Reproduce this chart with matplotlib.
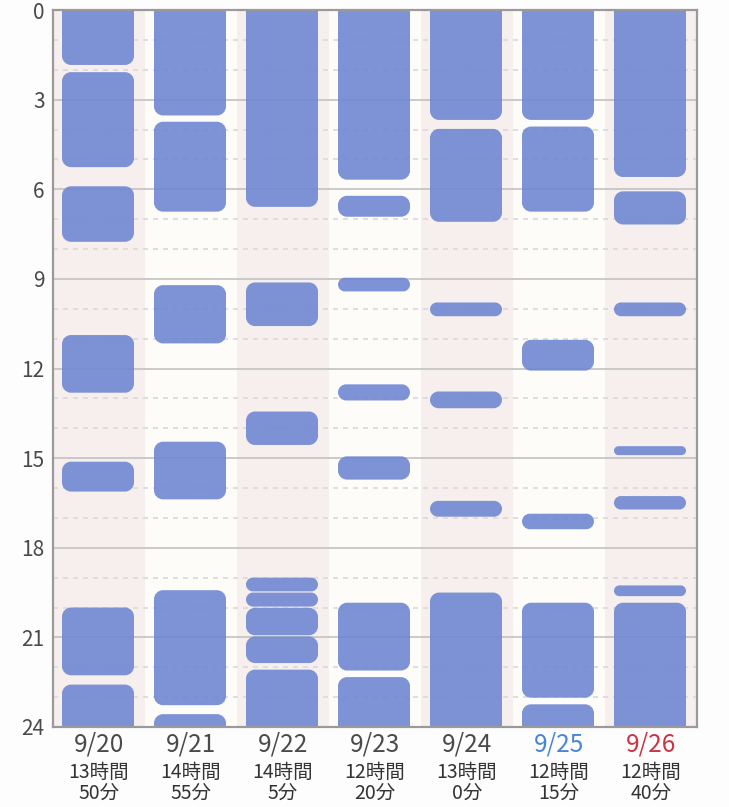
import matplotlib
matplotlib.use('Agg')
import matplotlib.pyplot as plt
import matplotlib.transforms as mtransforms
from matplotlib.path import Path
from matplotlib.patches import PathPatch

plt.rcParams['font.family'] = ['Noto Sans CJK JP', 'DejaVu Sans']

# sleep data (hours of day, start/end)
days = ['9/20', '9/21', '9/22', '9/23', '9/24', '9/25', '9/26']
totals = ['13時間\n50分', '14時間\n55分', '14時間\n5分', '12時間\n20分',
          '13時間\n0分', '12時間\n15分', '12時間\n40分']
day_colors = ['#4a4a4a', '#4a4a4a', '#4a4a4a', '#4a4a4a', '#4a4a4a', '#4a84d6', '#cc3344']

sleep_0920 = [(0, 1.86), (2.06, 5.28), (5.88, 7.78), (10.86, 12.83), (15.10, 16.14),
              (19.98, 22.29), (22.56, 24)]
sleep_0921 = [(0, 3.55), (3.72, 6.77), (9.19, 11.18), (14.43, 16.40), (19.40, 23.29),
              (23.55, 24)]
sleep_0922 = [(0, 6.61), (9.10, 10.60), (13.42, 14.58), (18.98, 19.48), (19.48, 19.99),
              (19.99, 20.95), (20.95, 21.88), (22.06, 24)]
sleep_0923 = [(0, 5.70), (6.20, 6.94), (8.94, 9.44), (12.51, 13.09), (14.92, 15.74),
              (19.82, 22.13), (22.31, 24)]
sleep_0924 = [(0, 3.70), (3.96, 7.11), (9.77, 10.27), (12.75, 13.35), (16.41, 16.98),
              (19.48, 24)]
sleep_0925 = [(0, 3.70), (3.88, 6.77), (11.02, 12.09), (16.84, 17.40), (19.82, 23.04),
              (23.22, 24)]
sleep_0926 = [(0, 5.61), (6.05, 7.20), (9.77, 10.27), (14.58, 14.92), (16.25, 16.74),
              (19.24, 19.64), (19.82, 24)]
sleep = [sleep_0920, sleep_0921, sleep_0922, sleep_0923, sleep_0924, sleep_0925, sleep_0926]


def round_rect(x0, y0, w, h, r):
    # rounded rectangle with circular corners (cubic bezier arcs)
    x1, y1 = x0 + w, y0 + h
    c = 0.5523 * r
    verts = [(x0 + r, y0), (x1 - r, y0),
             (x1 - r + c, y0), (x1, y0 + r - c), (x1, y0 + r),
             (x1, y1 - r),
             (x1, y1 - r + c), (x1 - r + c, y1), (x1 - r, y1),
             (x0 + r, y1),
             (x0 + r - c, y1), (x0, y1 - r + c), (x0, y1 - r),
             (x0, y0 + r),
             (x0, y0 + r - c), (x0 + r - c, y0), (x0 + r, y0),
             (x0 + r, y0)]
    codes = [Path.MOVETO, Path.LINETO,
             Path.CURVE4, Path.CURVE4, Path.CURVE4,
             Path.LINETO,
             Path.CURVE4, Path.CURVE4, Path.CURVE4,
             Path.LINETO,
             Path.CURVE4, Path.CURVE4, Path.CURVE4,
             Path.LINETO,
             Path.CURVE4, Path.CURVE4, Path.CURVE4,
             Path.CLOSEPOLY]
    return Path(verts, codes)


W, H = 729, 807
fig = plt.figure(figsize=(W / 100, H / 100), dpi=100)
fig.patch.set_facecolor('#fdfdfd')
ax_l, ax_r, ax_t, ax_b = 53, 697, 10, 727
ax = fig.add_axes([ax_l / W, 1 - ax_b / H, (ax_r - ax_l) / W, (ax_b - ax_t) / H])

n = len(days)
ax.set_xlim(-0.5, n - 0.5)
ax.set_ylim(24, 0)

# column backgrounds
for k in range(n):
    ax.axvspan(k - 0.5, k + 0.5, color='#f7eeee' if k % 2 == 0 else '#fdfcf8', zorder=0, lw=0)

# grid
for hr in range(1, 24):
    if hr % 3 == 0:
        ax.axhline(hr, color='#c6c6c6', lw=1.3, zorder=1)
    else:
        ax.axhline(hr, color='#d9d9d9', lw=1.2, ls=(0, (3, 3)), zorder=1)

# rounded sleep blocks, built in pixel-like units so the corners stay round
px_x = (ax_r - ax_l) / n
px_y = (ax_b - ax_t) / 24.0
pix = mtransforms.Affine2D().scale(1 / px_x, 1 / px_y) + ax.transData
bw = 72.0
for k, segs in enumerate(sleep):
    for s, e in segs:
        y0 = -15 if s <= 0 else s * px_y + 0.6
        y1 = 24 * px_y + 15 if e >= 24 else e * px_y - 0.6
        h = y1 - y0
        r = min(9.0, h / 2)
        p = PathPatch(round_rect(k * px_x - 1 - bw / 2, y0, bw, h, r),
                      transform=pix, fc='#7088d3', ec='none', alpha=0.9, zorder=2)
        ax.add_patch(p)

# axes styling
for sp in ax.spines.values():
    sp.set_color('#9a9a9a')
    sp.set_linewidth(1.6)
    sp.set_zorder(5)
ax.set_xticks([])
ax.set_yticks(range(0, 25, 3))
ax.tick_params(axis='y', length=0, pad=6, labelsize=15, labelcolor='#4a4a4a')

# day labels
trans = mtransforms.blended_transform_factory(ax.transData, ax.transAxes)
h_ax = ax_b - ax_t
for k in range(n):
    ax.text(k, -(745 - ax_b) / h_ax, days[k], transform=trans, ha='center', va='center',
            fontsize=17.5, color=day_colors[k])
    ax.text(k, -(783 - ax_b) / h_ax, totals[k], transform=trans, ha='center', va='center',
            fontsize=14, color='#333333', linespacing=1.0)

fig.savefig('out.png', dpi=100, facecolor=fig.get_facecolor())
